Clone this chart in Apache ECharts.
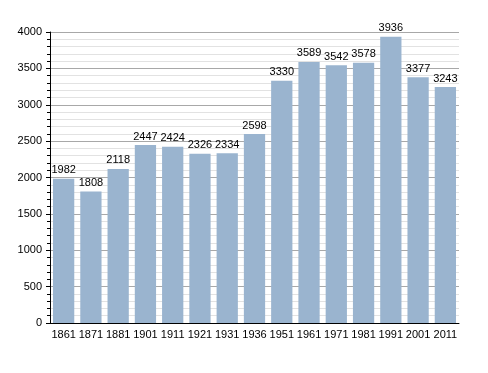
<!DOCTYPE html>
<html><head><meta charset="utf-8">
<script src="https://cdn.jsdelivr.net/npm/echarts@6/dist/echarts.min.js"></script>
<style>html,body{margin:0;padding:0;background:#fff}#c{width:488px;height:373px}</style>
</head><body><div id="c"></div>
<script>
var categories = ['1861','1871','1881','1901','1911','1921','1931','1936','1951','1961','1971','1981','1991','2001','2011'];
var population = [1982,1808,2118,2447,2424,2326,2334,2598,3330,3589,3542,3578,3936,3377,3243];
var yTicks = [0,500,1000,1500,2000,2500,3000,3500,4000];

var chart = echarts.init(document.getElementById('c'), null, {renderer:'canvas'});
var font = 'Liberation Sans, Arial, sans-serif';
chart.setOption({
  animation:false,
  grid:{left:50,right:29,top:32,bottom:50,containLabel:false},
  xAxis:{type:'category',data:categories,
    axisLine:{lineStyle:{color:'#000',width:1}},
    axisTick:{show:false},
    axisLabel:{color:'#000',fontFamily:font,fontSize:11,margin:6,interval:0},
    splitLine:{show:false}},
  yAxis:{type:'value',min:yTicks[0],max:yTicks[yTicks.length-1],interval:500,
    axisLine:{show:true,lineStyle:{color:'#000',width:1}},
    axisTick:{show:true,length:4,inside:false,lineStyle:{color:'#000'}},
    minorTick:{show:true,splitNumber:5,length:3,lineStyle:{color:'#000'}},
    axisLabel:{color:'#000',fontFamily:font,fontSize:11,margin:8,formatter:function(v){return String(v);}},
    splitLine:{show:true,lineStyle:{color:'#a8a8a8',width:1}},
    minorSplitLine:{show:true,lineStyle:{color:'#e2e2e2',width:1}}},
  series:[{type:'bar',data:population,barCategoryGap:'22%',
    itemStyle:{color:'#9ab4cf'},
    label:{show:true,position:'top',color:'#000',fontFamily:font,fontSize:11,distance:3}}]
});
</script></body></html>
